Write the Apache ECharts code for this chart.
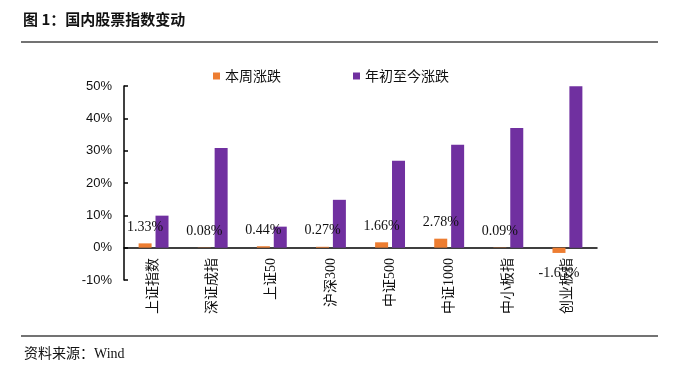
<!DOCTYPE html>
<html><head><meta charset="utf-8">
<script src="https://cdn.jsdelivr.net/npm/echarts@6/dist/echarts.min.js"></script>
<style>html,body{margin:0;padding:0;background:#fff}#c{width:680px;height:378px}</style>
</head><body><div id="c"></div>
<script>
const categories = ['上证指数','深证成指','上证50','沪深300','中证500','中证1000','中小板指','创业板指'];
const weekly = [1.33, 0.08, 0.44, 0.27, 1.66, 2.78, 0.09, -1.63];
const ytd = [9.9, 30.8, 6.5, 14.8, 26.9, 31.8, 37.0, 49.9];
const seriesNames = ['本周涨跌','年初至今涨跌'];
const yTicks = {min: -10, max: 50, interval: 10};

const chart = echarts.init(document.getElementById('c'), null, {renderer: 'canvas'});
const serif = '"Liberation Serif","DejaVu Serif","Noto Sans CJK SC",serif';
const cjk = '"Noto Sans CJK SC",sans-serif';
chart.setOption({
  animation: false,
  title: [
    {text: '图 1：国内股票指数变动', left: 18, top: 7, textStyle: {fontFamily: cjk, fontSize: 15, fontWeight: 'bold', color: '#111'}},
    {text: '资料来源：Wind', left: 19, top: 342, textStyle: {fontFamily: '"Liberation Serif","Noto Sans CJK SC",serif', fontSize: 14, fontWeight: 'normal', color: '#111'}}
  ],
  graphic: [
    {type: 'line', shape: {x1: 21, y1: 42, x2: 658, y2: 42}, style: {stroke: '#444', lineWidth: 1.5}},
    {type: 'line', shape: {x1: 21, y1: 336, x2: 658, y2: 336}, style: {stroke: '#444', lineWidth: 1.5}}
  ],
  legend: {
    data: seriesNames, left: 208, top: 64, icon: 'rect', itemWidth: 7, itemHeight: 7, itemGap: 72,
    textStyle: {fontFamily: cjk, fontSize: 14, color: '#111'}
  },
  grid: {left: 124, right: 83, top: 86, bottom: 98},
  xAxis: {
    type: 'category', data: categories,
    axisLine: {lineStyle: {color: '#000', width: 1.5}},
    axisTick: {inside: true, length: 4, lineStyle: {color: '#000', width: 1.5}},
    axisLabel: {rotate: 90, margin: -22, interval: 0, fontFamily: '"Liberation Serif","Noto Sans CJK SC",serif', fontSize: 14, color: '#111'}
  },
  yAxis: {
    type: 'value', min: yTicks.min, max: yTicks.max, interval: yTicks.interval,
    splitLine: {show: false},
    axisLine: {show: true, lineStyle: {color: '#000', width: 1.5}},
    axisTick: {show: true, inside: true, length: 4, lineStyle: {color: '#000', width: 1.5}},
    axisLabel: {formatter: '{value}%', margin: 12, fontFamily: '"Liberation Sans",Arial,sans-serif', fontSize: 13, color: '#111'}
  },
  series: [
    {
      name: seriesNames[0], type: 'bar', barWidth: 13, barGap: '30%', z: 3,
      itemStyle: {color: '#ED7D31'},
      data: weekly.map(v => ({value: v, label: v < 0 ? {position: 'bottom', distance: 13} : {position: 'top', distance: 9}})),
      label: {show: true, formatter: p => p.value.toFixed(2) + '%', fontFamily: serif, fontSize: 14, color: '#111'}
    },
    {
      name: seriesNames[1], type: 'bar', barWidth: 13,
      itemStyle: {color: '#7030A0'},
      data: ytd
    }
  ]
});
</script></body></html>
